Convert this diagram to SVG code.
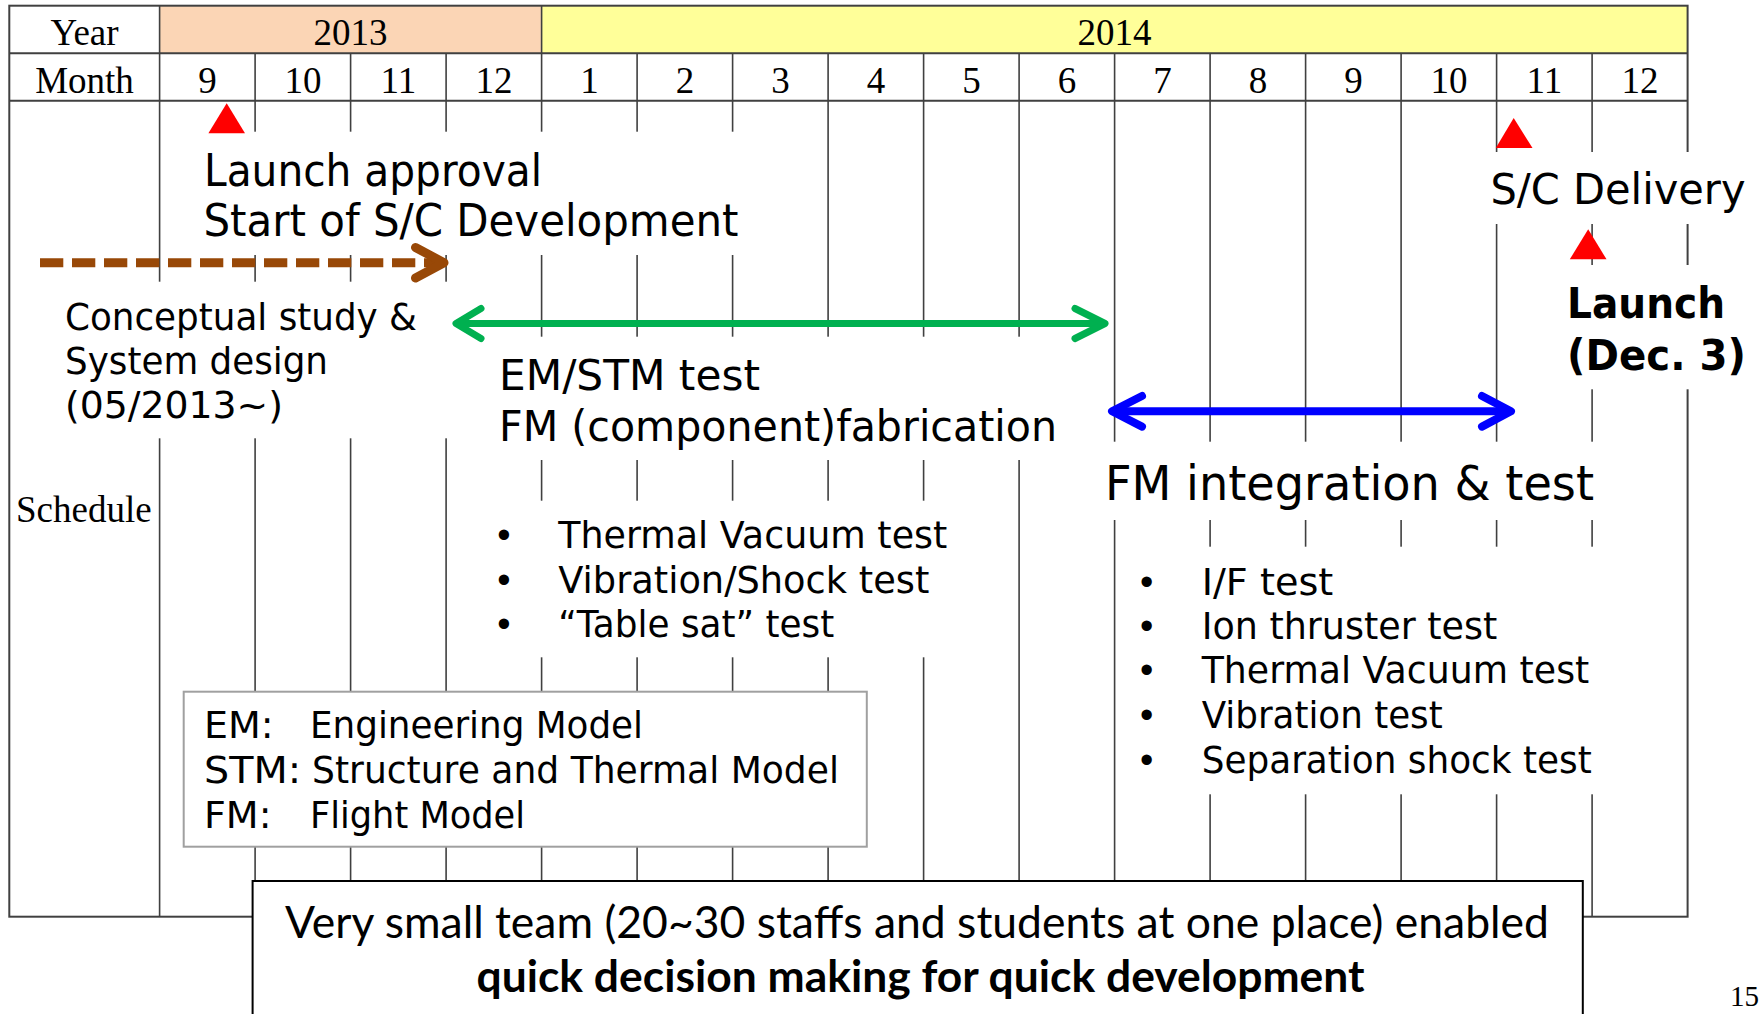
<svg xmlns="http://www.w3.org/2000/svg" width="1762" height="1014" viewBox="0 0 1762 1014">
<style>
.grid{stroke:#404040;stroke-width:1.6;fill:none}
.mask{fill:#ffffff;stroke:none}
.hdr{font-family:"Liberation Serif","Times New Roman",serif;font-size:37px;text-anchor:middle;fill:#000}
.t{font-family:"DejaVu Sans",Verdana,sans-serif;fill:#000}
.b{font-weight:bold}
.bul{font-family:"Liberation Sans",Arial,sans-serif;font-size:38px;text-anchor:middle;fill:#000}
.cal{font-family:Lato,"Open Sans",sans-serif;font-size:44px;fill:#000}
.tri{fill:#FF0000}
.arr{fill:none;stroke-linecap:round;stroke-linejoin:round}
</style>
<rect width="1762" height="1014" fill="#ffffff"/>
<g id="table">
  <rect x="159.6" y="5.7" width="382" height="47.6" fill="#FBD5B5"/>
  <rect x="541.6" y="5.7" width="1146" height="47.6" fill="#FFFF99"/>
  <rect class="grid" x="9.3" y="5.7" width="1678.3" height="911" style="stroke-width:2"/>
  <path class="grid" d="M9.3 53.3H1687.6M9.3 100.7H1687.6" style="stroke-width:2"/>
  <path class="grid" d="M159.6 5.7V916.7M541.6 5.7V916.7M255.1 53.3V916.7M350.6 53.3V916.7M446.1 53.3V916.7M637.1 53.3V916.7M732.6 53.3V916.7M828.1 53.3V916.7M923.6 53.3V916.7M1019.1 53.3V916.7M1114.6 53.3V916.7M1210.1 53.3V916.7M1305.6 53.3V916.7M1401.1 53.3V916.7M1496.6 53.3V916.7M1592.1 53.3V916.7"/>
  <text class="hdr" x="84.5" y="45">Year</text>
  <text class="hdr" x="84.5" y="92.7">Month</text>
  <text class="hdr" x="350.6" y="45">2013</text>
  <text class="hdr" x="1114.6" y="45">2014</text>
  <text class="hdr" x="207.4" y="92.7">9</text>
  <text class="hdr" x="302.9" y="92.7">10</text>
  <text class="hdr" x="398.4" y="92.7">11</text>
  <text class="hdr" x="493.9" y="92.7">12</text>
  <text class="hdr" x="589.4" y="92.7">1</text>
  <text class="hdr" x="684.9" y="92.7">2</text>
  <text class="hdr" x="780.4" y="92.7">3</text>
  <text class="hdr" x="875.9" y="92.7">4</text>
  <text class="hdr" x="971.4" y="92.7">5</text>
  <text class="hdr" x="1066.9" y="92.7">6</text>
  <text class="hdr" x="1162.4" y="92.7">7</text>
  <text class="hdr" x="1257.9" y="92.7">8</text>
  <text class="hdr" x="1353.4" y="92.7">9</text>
  <text class="hdr" x="1448.9" y="92.7">10</text>
  <text class="hdr" x="1544.4" y="92.7">11</text>
  <text class="hdr" x="1639.9" y="92.7">12</text>
  <text class="hdr" x="16" y="521.7" style="text-anchor:start">Schedule</text>
</g>
<g id="launch-approval">
  <rect class="mask" x="190" y="131.7" width="610" height="123.3"/>
  <polygon class="tri" points="226.7,103.3 245,133.3 208.4,133.3"/>
  <text class="t" x="204" y="186" font-size="44" textLength="338" lengthAdjust="spacingAndGlyphs">Launch approval</text>
  <text class="t" x="203.5" y="236" font-size="44" textLength="535" lengthAdjust="spacingAndGlyphs">Start of S/C Development</text>
</g>
<g id="conceptual-study">
  <rect class="mask" x="12" y="281.7" width="438" height="156.6"/>
  <text class="t" x="65" y="330" font-size="38" textLength="352" lengthAdjust="spacingAndGlyphs">Conceptual study &amp;</text>
  <text class="t" x="65" y="374" font-size="38" textLength="263" lengthAdjust="spacingAndGlyphs">System design</text>
  <text class="t" x="65" y="418" font-size="38" textLength="218" lengthAdjust="spacingAndGlyphs">(05/2013~)</text>
</g>
<g id="em-stm">
  <rect class="mask" x="460" y="336.7" width="640" height="123.3"/>
  <text class="t" x="499" y="390" font-size="43" textLength="261" lengthAdjust="spacingAndGlyphs">EM/STM test</text>
  <text class="t" x="499" y="441" font-size="43" textLength="558" lengthAdjust="spacingAndGlyphs">FM (component)fabrication</text>
</g>
<g id="em-tests">
  <rect class="mask" x="470" y="500.7" width="530" height="156.6"/>
  <text class="bul" x="504" y="548.3">•</text>
  <text class="bul" x="504" y="592.7">•</text>
  <text class="bul" x="504" y="637">•</text>
  <text class="t" x="558.3" y="548.3" font-size="38" textLength="389" lengthAdjust="spacingAndGlyphs">Thermal Vacuum test</text>
  <text class="t" x="558.3" y="592.7" font-size="38" textLength="371" lengthAdjust="spacingAndGlyphs">Vibration/Shock test</text>
  <text class="t" x="558.3" y="637" font-size="38" textLength="276" lengthAdjust="spacingAndGlyphs">“Table sat” test</text>
</g>
<g id="legend">
  <rect x="183.7" y="691.7" width="683.1" height="155" fill="#ffffff" stroke="#A0A0A0" stroke-width="2"/>
  <text class="t" x="204" y="738.3" font-size="38">EM:</text>
  <text class="t" x="310" y="738.3" font-size="38" textLength="333" lengthAdjust="spacingAndGlyphs">Engineering Model</text>
  <text class="t" x="204" y="783.3" font-size="38" textLength="97" lengthAdjust="spacingAndGlyphs">STM:</text>
  <text class="t" x="312" y="783.3" font-size="38" textLength="527" lengthAdjust="spacingAndGlyphs">Structure and Thermal Model</text>
  <text class="t" x="204" y="828.3" font-size="38">FM:</text>
  <text class="t" x="310" y="828.3" font-size="38" textLength="215" lengthAdjust="spacingAndGlyphs">Flight Model</text>
</g>
<g id="fm-integration">
  <rect class="mask" x="1030" y="441.7" width="620" height="78.3"/>
  <text class="t" x="1105" y="500" font-size="48" textLength="489" lengthAdjust="spacingAndGlyphs">FM integration &amp; test</text>
</g>
<g id="fm-tests">
  <rect class="mask" x="1125" y="546.7" width="525" height="247.6"/>
  <text class="bul" x="1146.7" y="595">•</text>
  <text class="bul" x="1146.7" y="639.3">•</text>
  <text class="bul" x="1146.7" y="683.3">•</text>
  <text class="bul" x="1146.7" y="728">•</text>
  <text class="bul" x="1146.7" y="773.3">•</text>
  <text class="t" x="1201.7" y="595" font-size="38" textLength="131.6" lengthAdjust="spacingAndGlyphs">I/F test</text>
  <text class="t" x="1201.7" y="639.3" font-size="38" textLength="295.6" lengthAdjust="spacingAndGlyphs">Ion thruster test</text>
  <text class="t" x="1201.7" y="683.3" font-size="38" textLength="387.6" lengthAdjust="spacingAndGlyphs">Thermal Vacuum test</text>
  <text class="t" x="1201.7" y="728" font-size="38" textLength="241" lengthAdjust="spacingAndGlyphs">Vibration test</text>
  <text class="t" x="1201.7" y="773.3" font-size="38" textLength="390" lengthAdjust="spacingAndGlyphs">Separation shock test</text>
</g>
<g id="sc-delivery">
  <rect class="mask" x="1420" y="152" width="342" height="72"/>
  <polygon class="tri" points="1513.7,118 1532.5,148 1495.8,148"/>
  <text class="t" x="1490.5" y="204" font-size="42" textLength="255" lengthAdjust="spacingAndGlyphs">S/C Delivery</text>
</g>
<g id="launch">
  <rect class="mask" x="1540" y="265" width="222" height="124.3"/>
  <polygon class="tri" points="1588.2,229.3 1606.5,259.3 1569.8,259.3"/>
  <text class="t b" x="1567" y="318" font-size="43" textLength="158" lengthAdjust="spacingAndGlyphs">Launch</text>
  <text class="t b" x="1567" y="370" font-size="43" textLength="179" lengthAdjust="spacingAndGlyphs">(Dec. 3)</text>
</g>
<g id="summary">
  <rect x="252.6" y="881" width="1330.2" height="150" fill="#ffffff" stroke="#000000" stroke-width="2"/>
  <text class="cal" x="285" y="938" textLength="1264" lengthAdjust="spacingAndGlyphs">Very small team (20~30 staffs and students at one place) enabled</text>
  <text class="cal" x="476.5" y="992" font-weight="bold" textLength="888" lengthAdjust="spacingAndGlyphs">quick decision making for quick development</text>
</g>
<g id="connectors">
  <g id="brown-arrow" stroke="#984807">
    <path d="M40 262.7H438" stroke-width="9" stroke-dasharray="23.3 8.7" fill="none"/>
    <path class="arr" d="M415.5 247.5L444 262.7L415.5 278" stroke-width="9"/>
  </g>
  <g id="green-arrow" stroke="#00B050">
    <path d="M458 323.5H1104" stroke-width="7" fill="none"/>
    <path class="arr" d="M481 308.5L456 323.5L481 338.5M1075 308.5L1105 323.5L1075 338.5" stroke-width="7"/>
  </g>
  <g id="blue-arrow" stroke="#0000FF">
    <path d="M1113 411.3H1510" stroke-width="8" fill="none"/>
    <path class="arr" d="M1142 396L1112 411.3L1142 426.6M1482 396L1511 411.3L1482 426.6" stroke-width="8"/>
  </g>
</g>
<text class="hdr" x="1730" y="1006" style="text-anchor:start;font-size:29px">15</text>
</svg>
